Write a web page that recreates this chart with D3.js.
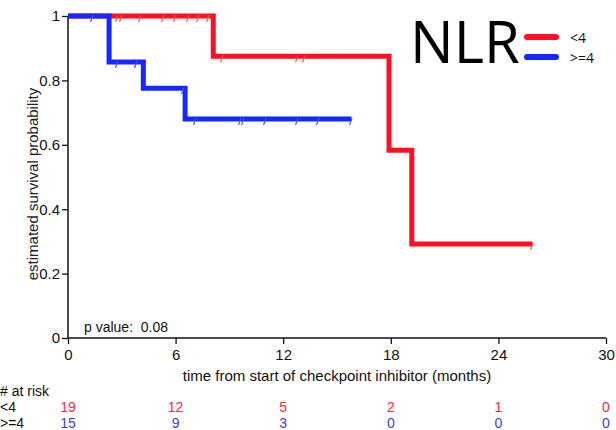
<!doctype html>
<html lang="en">
  <head>
    <meta charset="utf-8">
    <title>NLR survival</title>
    <script src="https://cdn.jsdelivr.net/npm/d3@7"></script>
    <style>
      body { margin: 0; background: #fff; }
      text { font-family: "Liberation Sans", Arial, sans-serif; white-space: pre; }
    </style>
  </head>
  <body>
    <script>
      const months = [0, 6, 12, 18, 24, 30];
      const probTicks = [0, 0.2, 0.4, 0.6, 0.8, 1];

      // NLR < 4
      const lowTimes = [0, 8.1, 17.9, 19.17, 25.9];
      const lowSurv = [1, 0.875, 0.583, 0.292, 0.292];
      const lowCensor = [2.73, 2.96, 4.02, 5.3, 5.97, 6.69, 7.25, 7.81, 8.59, 12.77, 13.16, 25.88];
      const lowRisk = [19, 12, 5, 2, 1, 0];

      // NLR >= 4
      const highTimes = [0, 2.29, 4.2, 6.53, 15.8];
      const highSurv = [1, 0.857, 0.776, 0.68, 0.68];
      const highCensor = [1.34, 2.73, 3.79, 6.41, 7.08, 9.59, 9.76, 10.99, 12.77, 13.94, 15.78];
      const highRisk = [15, 9, 3, 0, 0, 0];

      const w = 616, h = 430;
      const x0 = 68, x1 = 606, yTop = 16, yBot = 338;

      const xScale = d3.scaleLinear().domain([0, 30]).range([x0, x1]);
      const yScale = d3.scaleLinear().domain([0, 1]).range([yBot, yTop]);

      const svg = d3.select("body").append("svg")
                    .attr("width", w)
                    .attr("height", h);

      // axes
      const yAxis = d3.axisLeft(yScale).tickValues(probTicks).tickSize(6).tickPadding(2)
                      .tickFormat(d => d === 0 ? "0" : d === 1 ? "1" : d3.format(".1f")(d));
      const gy = svg.append("g").attr("transform", "translate(" + x0 + ",0)").call(yAxis);
      const xAxis = d3.axisBottom(xScale).tickValues(months).tickSize(6).tickPadding(5);
      const gx = svg.append("g").attr("transform", "translate(0," + yBot + ")").call(xAxis);
      [gx, gy].forEach(g => {
        g.select(".domain").attr("stroke", "#111").attr("stroke-width", 1.5);
        g.selectAll(".tick line").attr("stroke", "#111").attr("stroke-width", 1.3);
        g.selectAll(".tick text").attr("font-size", 15).attr("fill", "#111")
         .style("font-family", "'Liberation Sans', Arial, sans-serif");
      });
      // drop the outer d3 caps on the domain
      gy.select(".domain").attr("d", "M0," + yBot + "V" + yTop);
      gx.select(".domain").attr("d", "M" + x0 + ",0H" + x1);

      svg.append("text")
         .attr("transform", "translate(38," + ((yTop + yBot) / 2 + 7) + ") rotate(-90)")
         .attr("text-anchor", "middle")
         .attr("font-size", 15)
         .attr("fill", "#222")
         .text("estimated survival probability");

      svg.append("text")
         .attr("x", (x0 + x1) / 2)
         .attr("y", 381)
         .attr("text-anchor", "middle")
         .attr("font-size", 15)
         .attr("fill", "#111")
         .text("time from start of checkpoint inhibitor (months)");

      svg.append("text")
         .attr("x", 84).attr("y", 332)
         .attr("font-size", 14)
         .attr("fill", "#111")
         .text("p value:  0.08");

      // survival curves
      const step = d3.line().x(d => xScale(d[0])).y(d => yScale(d[1])).curve(d3.curveStepAfter);
      const survAt = (times, surv, t) => surv[Math.max(0, d3.bisectRight(times, t) - 1)];

      function drawGroup(times, surv, censor, color, tickColor) {
        svg.append("path")
           .datum(d3.zip(times, surv))
           .attr("d", step)
           .attr("fill", "none")
           .attr("stroke", color)
           .attr("stroke-width", 5);
        svg.append("g").selectAll("line")
           .data(censor)
           .join("line")
           .attr("x1", d => xScale(d) - 1.5)
           .attr("y1", d => yScale(survAt(times, surv, d)) + 6)
           .attr("x2", d => xScale(d) + 1)
           .attr("y2", d => yScale(survAt(times, surv, d)) - 1)
           .attr("stroke", tickColor)
           .attr("stroke-width", 1.2);
      }
      drawGroup(lowTimes, lowSurv, lowCensor, "#ff0f24", "#ff5a3c");
      drawGroup(highTimes, highSurv, highCensor, "#1428ff", "#5a4cff");

      // legend
      svg.append("text")
         .attr("x", 410).attr("y", 63)
         .attr("font-size", 58)
         .attr("fill", "#000")
         .style("font-family", "'Open Sans', sans-serif")
         .text("NLR");
      const legend = [["<4", "#ff0f24", 37], [">=4", "#1428ff", 57]];
      legend.forEach(([lab, col, ly]) => {
        svg.append("line")
           .attr("x1", 527).attr("x2", 556)
           .attr("y1", ly).attr("y2", ly)
           .attr("stroke", col).attr("stroke-width", 6)
           .attr("stroke-linecap", "round");
        svg.append("text")
           .attr("x", 570).attr("y", ly + 6)
           .attr("font-size", 14)
           .attr("fill", "#111")
           .style("font-family", "'Open Sans', sans-serif")
           .text(lab);
      });

      // numbers at risk
      svg.append("text").attr("x", 0).attr("y", 396).attr("font-size", 14).attr("fill", "#111").text("# at risk");
      svg.append("text").attr("x", 0).attr("y", 412).attr("font-size", 14).attr("fill", "#111").text("<4");
      svg.append("text").attr("x", 0).attr("y", 428).attr("font-size", 14).attr("fill", "#111").text(">=4");
      svg.append("g").selectAll("text")
         .data(lowRisk)
         .join("text")
         .attr("x", (d, i) => xScale(months[i]))
         .attr("y", 412)
         .attr("text-anchor", "middle")
         .attr("font-size", 14)
         .attr("fill", "#ff2a35")
         .text(d => d);
      svg.append("g").selectAll("text")
         .data(highRisk)
         .join("text")
         .attr("x", (d, i) => xScale(months[i]))
         .attr("y", 428)
         .attr("text-anchor", "middle")
         .attr("font-size", 14)
         .attr("fill", "#3a3aff")
         .text(d => d);
    </script>
  </body>
</html>
